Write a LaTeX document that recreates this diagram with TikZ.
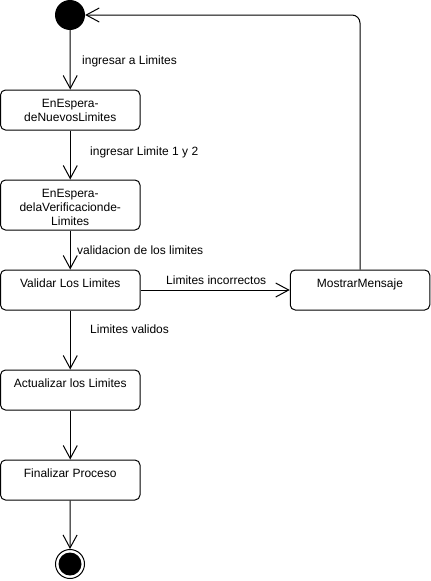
\documentclass[tikz,border=0pt]{standalone}
\usepackage{fontspec}
\setmainfont{Liberation Sans}
\usetikzlibrary{arrows.meta}
\tikzset{
  state/.style={draw, line width=1pt, rounded corners=5pt, minimum width=139.5pt, minimum height=40pt, inner sep=0pt},
  statetext/.style={anchor=north, inner sep=0pt, align=center, font=\fontsize{12}{14}\selectfont},
  lbl/.style={anchor=west, inner sep=0pt, text height=8.6pt, text depth=2.5pt, font=\fontsize{12}{14}\selectfont},
  arr/.style={line width=1pt, -{Straight Barb[length=13pt,width=14pt,line width=1pt]}},
}
\begin{document}
\begin{tikzpicture}[x=1pt,y=-1pt]
\useasboundingbox (0,0) rectangle (431,581);
% start / end
\node[circle, fill=black, minimum size=30pt, inner sep=0pt] (start) at (70,15) {};
\node[circle, draw, line width=1pt, minimum size=29pt, inner sep=0pt] (end) at (70,564) {};
\node[circle, fill=black, minimum size=23pt, inner sep=0pt] (endin) at (70,564) {};
% states
\node[state] (b1) at (70.25,110) {};
\node[statetext] (t1) at ([yshift=-9.5pt]b1.north) {EnEspera-\\deNuevosLimites};
\node[state, minimum height=50pt] (b2) at (70.25,205) {};
\node[statetext] (t2) at ([yshift=-9.5pt]b2.north) {EnEspera-\\delaVerificacionde-\\Limites};
\node[state] (b3) at (70.25,290) {};
\node[statetext] (t3) at ([yshift=-9.5pt]b3.north) {Validar Los Limites};
\node[state] (msg) at (360,290) {};
\node[statetext] (t4) at ([yshift=-9.5pt]msg.north) {MostrarMensaje};
\node[state] (b4) at (70.25,390) {};
\node[statetext] (t5) at ([yshift=-9.5pt]b4.north) {Actualizar los Limites};
\node[state] (b5) at (70.25,480) {};
\node[statetext] (t6) at ([yshift=-9.5pt]b5.north) {Finalizar Proceso};
% connectors
\draw[arr] (start.south) -- (b1.north);
\draw[arr] (b1.south) -- (b2.north);
\draw[arr] (b2.south) -- (b3.north);
\draw[arr] (b3.east) -- (msg.west);
\draw[arr] (b3.south) -- (b4.north);
\draw[arr] (b4.south) -- (b5.north);
\draw[arr] (b5.south) -- (end.north);
\draw[arr, rounded corners=8pt] (msg.north) |- (start.east);
% labels
\node[lbl] (l1) at (82,61) {ingresar a Limites};
\node[lbl] (l2) at (90,152) {ingresar Limite 1 y 2};
\node[lbl] (l3) at (77,251) {validacion de los limites};
\node[lbl] (l4) at (166,281) {Limites incorrectos};
\node[lbl] (l5) at (90,330) {Limites validos};
\end{tikzpicture}
\end{document}
